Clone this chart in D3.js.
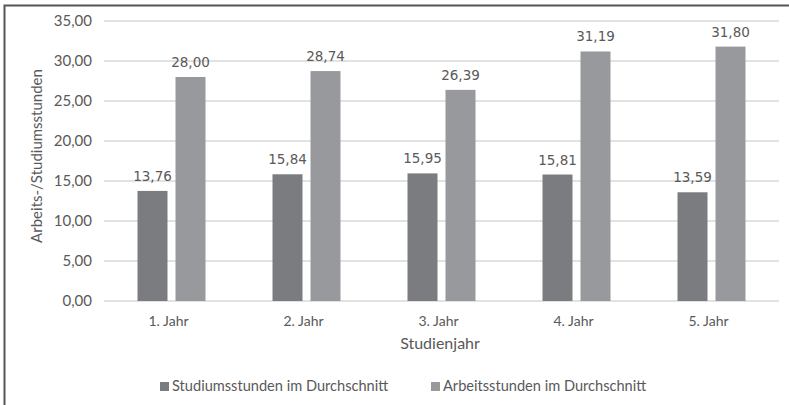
<!DOCTYPE html>
<meta charset="utf-8">
<style>
body { margin: 0; background: #fff; }
text { font-family: Lato, "Open Sans", sans-serif; fill: #595959; }
.grid line { stroke: #d9d9d9; stroke-width: 1.3px; }
</style>
<body>
<script src="https://d3js.org/d3.v7.min.js"></script>
<script>

var years = ["1. Jahr", "2. Jahr", "3. Jahr", "4. Jahr", "5. Jahr"];
var studium = [13.76, 15.84, 15.95, 15.81, 13.59];
var arbeit = [28.00, 28.74, 26.39, 31.19, 31.80];
var seriesNames = ["Studiumsstunden im Durchschnitt", "Arbeitsstunden im Durchschnitt"];
var colors = ["#7b7c7f", "#98999c"];
var yTicks = [0, 5, 10, 15, 20, 25, 30, 35];

var width = 789, height = 405;
var plotL = 104, plotR = 779, plotT = 21, plotB = 301;

var fmt = function(v) { return d3.format(".2f")(v).replace(".", ","); };

var svg = d3.select("body").append("svg")
    .attr("width", width)
    .attr("height", height);

// outer frame
svg.append("path")
    .attr("d", "M4.5," + height + "V5.5H" + (width + 1))
    .attr("fill", "none")
    .attr("stroke", "#555")
    .attr("stroke-width", 2);

var x = d3.scaleBand().domain(years).range([plotL, plotR]);
var y = d3.scaleLinear().domain([0, 35]).range([plotB, plotT]);

var grid = svg.append("g").attr("class", "grid");
grid.selectAll("line")
    .data(yTicks).enter().append("line")
    .attr("x1", plotL).attr("x2", plotR)
    .attr("y1", function(d) { return y(d); })
    .attr("y2", function(d) { return y(d); });

grid.selectAll("text")
    .data(yTicks).enter().append("text")
    .attr("x", plotL - 12)
    .attr("y", function(d) { return y(d); })
    .attr("dy", "0.35em")
    .attr("text-anchor", "end")
    .style("font-size", "15px")
    .text(fmt);

var barW = 30, gap = 8;
var rows = years.map(function(yr, i) { return {year: yr, vals: [studium[i], arbeit[i]]}; });

var groups = svg.selectAll(".grp")
    .data(rows).enter().append("g")
    .attr("transform", function(d) { return "translate(" + (x(d.year) + x.bandwidth() / 2) + ",0)"; });

groups.selectAll("rect")
    .data(function(d) { return d.vals; }).enter().append("rect")
    .attr("x", function(d, k) { return k === 0 ? -barW - gap / 2 : gap / 2; })
    .attr("width", barW)
    .attr("y", function(d) { return y(d); })
    .attr("height", function(d) { return plotB - y(d); })
    .attr("fill", function(d, k) { return colors[k]; });

groups.selectAll(".lbl")
    .data(function(d) { return d.vals; }).enter().append("text")
    .attr("x", function(d, k) { return k === 0 ? -barW / 2 - gap / 2 : barW / 2 + gap / 2; })
    .attr("y", function(d) { return y(d) - 10; })
    .attr("text-anchor", "middle")
    .style("font-family", "'DejaVu Sans', Verdana, sans-serif")
    .style("font-size", "13.5px")
    .text(fmt);

svg.selectAll(".xlab")
    .data(years).enter().append("text")
    .attr("x", function(d) { return x(d) + x.bandwidth() / 2 - 3; })
    .attr("y", 326)
    .attr("text-anchor", "middle")
    .style("font-size", "14px")
    .text(function(d) { return d; });

svg.append("text")
    .attr("x", 440).attr("y", 349)
    .attr("text-anchor", "middle")
    .style("font-size", "16px")
    .text("Studienjahr");

svg.append("text")
    .attr("transform", "translate(42,156) rotate(-90)")
    .attr("text-anchor", "middle")
    .style("font-size", "15px")
    .text("Arbeits-/Studiumsstunden");

var legendX = [160, 431];
var leg = svg.selectAll(".leg")
    .data(seriesNames).enter().append("g")
    .attr("transform", function(d, i) { return "translate(" + legendX[i] + ",391)"; });
leg.append("rect")
    .attr("x", 0).attr("y", -9)
    .attr("width", 9).attr("height", 9)
    .attr("fill", function(d, i) { return colors[i]; });
leg.append("text")
    .attr("x", 12).attr("y", 0)
    .style("font-size", "14.6px")
    .text(function(d) { return d; });

</script>
